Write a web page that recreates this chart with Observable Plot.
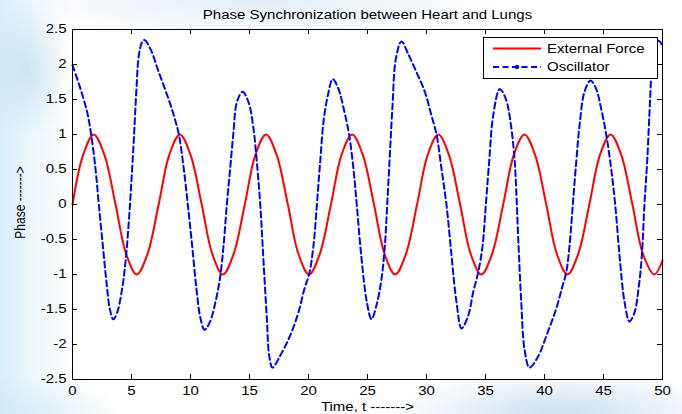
<!DOCTYPE html>
<html>
<head>
<meta charset="utf-8">
<script src="https://cdn.jsdelivr.net/npm/d3@7"></script>
<script src="https://cdn.jsdelivr.net/npm/@observablehq/plot@0.6"></script>
<style>
  html, body { margin: 0; padding: 0; }
  body {
    width: 682px; height: 414px; overflow: hidden; position: relative;
    background: #ffffff;
    font-family: "Liberation Sans", Arial, sans-serif;
  }
  #bg {
    position: absolute; left: 0; top: 0; width: 682px; height: 414px;
    background:
      radial-gradient(ellipse 40px 70px at 28px 70px, rgba(185, 215, 235, 0.55), rgba(255,255,255,0) 100%),
      linear-gradient(90deg, rgba(205, 230, 243, 0.75) 0px, rgba(222, 240, 249, 0.5) 35px, rgba(255,255,255,0) 70px),
      radial-gradient(ellipse 240px 40px at 260px 0px, rgba(200, 222, 238, 0.55), rgba(255,255,255,0) 100%),
      radial-gradient(ellipse 170px 45px at 560px 414px, rgba(185, 212, 232, 0.75), rgba(255,255,255,0) 100%),
      radial-gradient(ellipse 90px 40px at 30px 414px, rgba(200, 228, 242, 0.7), rgba(255,255,255,0) 100%);
  }
  #chart { position: absolute; left: 0; top: 0; }
</style>
</head>
<body>
<div id="bg"></div>
<div id="chart"></div>
<script>
// External force: time samples and phase values
const forceT = [0, 0.9, 1.8, 2.7, 3.65, 4.55, 5.45, 6.35,
  7.3, 8.2, 9.1, 10.0, 10.95, 11.85, 12.75, 13.65,
  14.6, 15.5, 16.4, 17.3, 18.25, 19.15, 20.05, 20.95,
  21.9, 22.8, 23.7, 24.6, 25.55, 26.45, 27.35, 28.25,
  29.2, 30.1, 31.0, 31.9, 32.85, 33.75, 34.65, 35.55,
  36.5, 37.4, 38.3, 39.2, 40.15, 41.05, 41.95, 42.85,
  43.8, 44.7, 45.6, 46.5, 47.45, 48.35, 49.3, 50];
const forceY = [0, 0.71, 1, 0.71, 0, -0.71, -1, -0.71,
  0, 0.71, 1, 0.71, 0, -0.71, -1, -0.71,
  0, 0.71, 1, 0.71, 0, -0.71, -1, -0.71,
  0, 0.71, 1, 0.71, 0, -0.71, -1, -0.71,
  0, 0.71, 1, 0.71, 0, -0.71, -1, -0.71,
  0, 0.71, 1, 0.71, 0, -0.71, -1, -0.71,
  0, 0.71, 1, 0.71, 0, -0.71, -1, -0.8];

// Oscillator: time samples and phase values
const oscT = [0, 0.68, 1.24, 1.58, 1.95, 2.23, 2.57, 2.88, 3.16, 3.45, 3.79, 4.21, 4.49, 4.77, 4.97,
  5.2, 5.42, 5.62, 5.9, 6.1, 6.61, 7.31, 8.03, 8.59, 9.01, 9.43, 9.77, 10.14, 10.5, 10.85,
  11.19, 11.64, 12.12, 12.5, 12.8, 13.08, 13.36, 13.64, 13.93, 14.41, 14.92, 15.34, 15.62, 15.91,
  16.19, 16.47, 16.67, 16.95, 17.6, 18.45, 19.15, 19.66, 20.06, 20.42, 20.71, 20.99, 21.27, 21.64,
  22.06, 22.54, 23.05, 23.45, 23.81, 24.09, 24.47, 24.94, 25.34, 25.76, 26.19, 26.47, 26.67, 26.89,
  27.12, 27.4, 27.88, 28.45, 29.15, 29.86, 30.42, 30.85, 31.27, 31.69, 32.12, 32.54, 32.97, 33.53,
  33.96, 34.38, 34.75, 35.03, 35.31, 35.65, 36.21, 36.72, 37.12, 37.48, 37.6, 37.8, 38.03, 38.3,
  38.73, 39.43, 40.28, 40.99, 41.47, 41.84, 42.12, 42.4, 42.69, 42.97, 43.39, 43.9, 44.38, 44.8,
  45.23, 45.65, 45.99, 46.36, 46.78, 47.2, 47.63, 47.97, 48.25, 48.47, 48.7, 48.9, 49.09, 49.32,
  49.66, 50];
const oscY = [1.99, 1.65, 1.32, 1.0, 0.51, 0.0, -0.59, -1.11, -1.49, -1.64, -1.54, -1.2, -0.82, -0.25, 0.27,
  0.94, 1.65, 2.13, 2.32, 2.35, 2.22, 1.89, 1.56, 1.27, 1.0, 0.51, 0.0, -0.59, -1.2, -1.63,
  -1.79, -1.68, -1.39, -1.05, -0.59, 0.0, 0.51, 1.03, 1.46, 1.61, 1.46, 1.08, 0.61, 0.0,
  -0.82, -1.63, -2.16, -2.33, -2.16, -1.87, -1.54, -1.2, -0.99, -0.59, 0.0, 0.61, 1.18, 1.56,
  1.79, 1.65, 1.32, 0.99, 0.51, 0.0, -0.73, -1.39, -1.64, -1.44, -1.06, -0.59, 0.0, 0.7,
  1.41, 2.08, 2.33, 2.15, 1.89, 1.61, 1.27, 1.0, 0.51, 0.0, -0.73, -1.39, -1.77, -1.59,
  -1.25, -0.97, -0.59, 0.0, 0.61, 1.27, 1.65, 1.51, 1.18, 0.61, 0.22, -0.59, -1.39, -2.06,
  -2.33, -2.18, -1.82, -1.49, -1.2, -0.97, -0.59, 0.0, 0.61, 1.13, 1.61, 1.77, 1.65, 1.37,
  1.0, 0.51, 0.0, -0.73, -1.39, -1.67, -1.54, -1.2, -0.73, 0.0, 0.61, 1.32, 1.94, 2.27,
  2.34, 2.27];

const xTicks = [0, 5, 10, 15, 20, 25, 30, 35, 40, 45, 50];
const yTicks = [-2.5, -2, -1.5, -1, -0.5, 0, 0.5, 1, 1.5, 2, 2.5];

const titleText = "Phase Synchronization between Heart and Lungs";
const xLabel = "Time, t ------->";
const yLabel = "Phase ------->";
const seriesNames = ["External Force", "Oscillator"];

const force = forceT.map((t, i) => ({t, v: forceY[i]}));
const osc = oscT.map((t, i) => ({t, v: oscY[i]}));

const W = 682, H = 414;
const mTop = 29, mRight = 20, mBottom = 35, mLeft = 72;
const frameW = W - mLeft - mRight, frameH = H - mTop - mBottom;
const tickLen = 5;
const fmt = d => String(d);
const label = {fill: "black", fontSize: 12, textAnchor: "middle", lineAnchor: "middle"};

const plot = Plot.plot({
  width: W, height: H,
  marginTop: mTop, marginRight: mRight, marginBottom: mBottom, marginLeft: mLeft,
  style: {background: "transparent", color: "black", fontFamily: "'Liberation Sans', Arial, sans-serif", fontSize: "12px", overflow: "visible"},
  x: {domain: [0, 50], axis: null},
  y: {domain: [-2.5, 2.5], axis: null},
  marks: [
    Plot.frame({fill: "white", stroke: null}),
    Plot.line(force, {x: "t", y: "v", stroke: "#ff0000", strokeWidth: 2, curve: "catmull-rom"}),
    Plot.line(osc, {x: "t", y: "v", stroke: "#0000ff", strokeWidth: 2, strokeDasharray: "6,3.5", curve: "catmull-rom"}),
    Plot.frame({stroke: "black", strokeWidth: 1}),
    // inward ticks on all four sides
    Plot.tickX(xTicks, {x: d => d, stroke: "black", insetBottom: frameH - tickLen}),
    Plot.tickX(xTicks, {x: d => d, stroke: "black", insetTop: frameH - tickLen}),
    Plot.tickY(yTicks, {y: d => d, stroke: "black", insetRight: frameW - tickLen}),
    Plot.tickY(yTicks, {y: d => d, stroke: "black", insetLeft: frameW - tickLen}),
    Plot.axisX(xTicks, {tickSize: 0, tickPadding: 7, tickFormat: fmt, label: null, fill: "black"}),
    Plot.axisY(yTicks, {tickSize: 0, tickPadding: 6, tickFormat: fmt, label: null, fill: "black"}),
    Plot.text([titleText], {text: d => d, frameAnchor: "top", dy: -14, ...label}),
    Plot.text([xLabel], {text: d => d, frameAnchor: "bottom", dy: 28, ...label}),
    Plot.text([yLabel], {text: d => d, frameAnchor: "left", dx: -52, dy: -2, rotate: -90, ...label})
  ]
});

// widen the lettering horizontally, keeping each label anchored in place
const stretch = 1.25;
plot.querySelectorAll("text").forEach(t => {
  const tr = t.getAttribute("transform");
  if (tr && /^translate\(/.test(tr)) {
    t.setAttribute("transform", tr.replace(/^(translate\([^)]*\))/, `$1 scale(${stretch},1)`));
  }
});

// legend box in the upper right corner of the axes
const svg = d3.select(plot);
const lg = svg.append("g")
  .attr("font-family", "'Liberation Sans', Arial, sans-serif")
  .attr("font-size", 12)
  .attr("text-anchor", "start");
const lgX = W - mRight - 179, lgY = mTop + 8, lgW = 174, lgH = 41;
lg.append("rect")
  .attr("x", lgX + 0.5).attr("y", lgY + 0.5).attr("width", lgW).attr("height", lgH)
  .attr("fill", "white").attr("stroke", "black").attr("stroke-width", 1);
const rowY = [lgY + 11.5, lgY + 30];
const sampleX1 = lgX + 10, sampleX2 = lgX + 58;
lg.append("line")
  .attr("x1", sampleX1).attr("x2", sampleX2).attr("y1", rowY[0]).attr("y2", rowY[0])
  .attr("stroke", "#ff0000").attr("stroke-width", 2);
lg.append("line")
  .attr("x1", sampleX1).attr("x2", sampleX2).attr("y1", rowY[1]).attr("y2", rowY[1])
  .attr("stroke", "#0000ff").attr("stroke-width", 2).attr("stroke-dasharray", "6,3.5");
lg.append("circle")
  .attr("cx", (sampleX1 + sampleX2) / 2).attr("cy", rowY[1]).attr("r", 2.2).attr("fill", "#0000ff");
seriesNames.forEach((name, i) => {
  lg.append("text")
    .attr("transform", `translate(${lgX + 64},${rowY[i]}) scale(${stretch},1)`)
    .attr("dy", "0.35em").attr("fill", "black").text(name);
});

document.getElementById("chart").appendChild(plot);
</script>
</body>
</html>
